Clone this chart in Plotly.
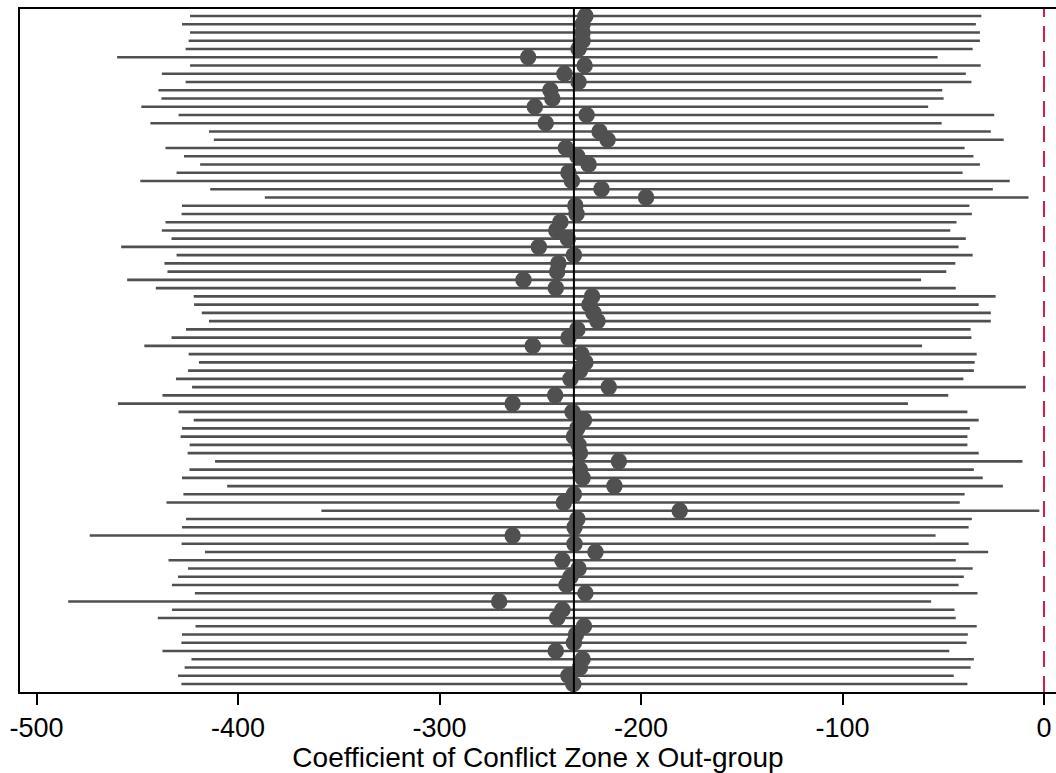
import plotly.graph_objects as go

# Estimates and 95% CI bounds, listed from top row to bottom row
est = [-227.6, -229.0, -229.0, -229.0, -231.0, -256.0, -228.0, -238.0, -231.0, -245.0,
       -244.0, -252.7, -227.0, -247.3, -220.6, -216.6, -237.3, -231.6, -226.0, -236.0,
       -234.3, -219.6, -197.5, -232.6, -232.0, -240.0, -242.0, -236.3, -250.7, -233.3,
       -241.0, -241.6, -258.3, -242.3, -224.3, -225.6, -223.6, -221.6, -231.6, -236.0,
       -253.7, -229.6, -227.6, -230.3, -235.0, -216.0, -242.6, -263.7, -234.0, -228.3,
       -231.6, -233.3, -231.0, -230.3, -211.0, -230.3, -229.0, -213.2, -233.3, -238.3,
       -180.8, -231.6, -233.0, -263.7, -233.0, -222.6, -239.0, -231.0, -235.0, -237.0,
       -227.6, -270.4, -239.0, -241.6, -228.3, -232.3, -233.3, -242.3, -229.0, -230.3,
       -236.0, -233.6]
lo = [-423.8, -427.8, -423.8, -424.5, -426.0, -460.0, -423.8, -437.8, -426.0, -439.5,
      -438.0, -448.0, -429.5, -443.5, -414.4, -412.0, -436.0, -426.8, -418.8, -430.5,
      -448.5, -413.8, -386.7, -427.8, -428.0, -436.0, -437.8, -433.0, -458.0, -430.5,
      -436.5, -435.0, -455.0, -440.8, -422.0, -421.8, -418.0, -414.4, -425.8, -433.0,
      -446.5, -424.5, -419.4, -424.8, -430.8, -422.8, -437.5, -459.6, -429.5, -422.0,
      -427.8, -428.5, -424.0, -425.0, -411.4, -424.1, -427.8, -405.4, -427.1, -435.5,
      -358.6, -425.8, -427.8, -473.6, -428.0, -416.4, -434.5, -424.8, -429.8, -432.8,
      -421.4, -484.3, -432.8, -439.8, -421.1, -427.8, -428.1, -437.5, -423.1, -426.5,
      -429.8, -428.1]
hi = [-31.1, -33.8, -31.8, -31.8, -35.4, -52.8, -31.4, -38.8, -36.0, -50.5,
      -49.8, -57.5, -24.7, -50.8, -26.4, -20.0, -39.4, -35.0, -31.8, -40.4,
      -17.0, -25.4, -7.7, -37.0, -35.8, -43.4, -46.5, -38.8, -42.4, -35.4,
      -44.0, -48.5, -61.0, -43.8, -24.0, -32.4, -26.4, -26.4, -36.4, -36.0,
      -60.5, -33.4, -34.4, -34.8, -40.0, -9.0, -47.5, -67.5, -38.0, -32.4,
      -36.8, -38.0, -38.0, -32.4, -10.7, -34.8, -30.4, -20.4, -39.4, -41.8,
      -2.3, -35.8, -37.4, -53.8, -37.4, -27.7, -43.8, -35.4, -39.8, -42.4,
      -33.0, -56.0, -44.4, -43.8, -33.4, -37.8, -38.4, -47.0, -34.8, -36.4,
      -44.8, -38.0]
mean_est = -233.3
ref_value = 0
tick_vals = [-500, -400, -300, -200, -100, 0]
tick_text = ["-500", "-400", "-300", "-200", "-100", "0"]
x_title = "Coefficient of Conflict Zone x Out-group"

rows = list(range(1, len(est) + 1))

ci_x, ci_y = [], []
for r, a, b in zip(rows, lo, hi):
    ci_x += [a, b, None]
    ci_y += [r, r, None]

fig = go.Figure()
fig.add_trace(go.Scatter(x=ci_x, y=ci_y, mode="lines",
                         line=dict(color="#505050", width=2.6),
                         hoverinfo="skip", showlegend=False))
fig.add_trace(go.Scatter(x=est, y=rows, mode="markers",
                         marker=dict(color="#505050", size=16.5, line=dict(width=0)),
                         showlegend=False))

fig.add_shape(type="line", xref="x", yref="paper", x0=mean_est, x1=mean_est, y0=0, y1=1,
              line=dict(color="black", width=2))
fig.add_shape(type="line", xref="x", yref="paper", x0=ref_value, x1=ref_value, y0=0, y1=1,
              line=dict(color="#d11f4a", width=2, dash="16px,9px"))

fig.update_layout(
    width=1056, height=773,
    margin=dict(l=20, r=0, t=9, b=81),
    paper_bgcolor="white", plot_bgcolor="white",
    font=dict(family="Liberation Sans, Arial, sans-serif", color="black"),
    xaxis=dict(range=[-508.2, 5.96], tickvals=tick_vals, ticktext=tick_text,
               ticks="outside", ticklen=11, tickwidth=1.5, tickcolor="black",
               tickfont=dict(size=27), showgrid=False, zeroline=False,
               showline=True, linecolor="black", linewidth=2, mirror=True,
               automargin=False,
               title=dict(text=x_title, font=dict(size=28), standoff=0)),
    yaxis=dict(range=[82.97, 0.15], showticklabels=False, ticks="", showgrid=False,
               zeroline=False, showline=True, linecolor="black", linewidth=2),
)

fig.write_html("out.html", config={"displayModeBar": False},
               post_script="document.body.style.margin='0';document.body.style.overflow='hidden';")
